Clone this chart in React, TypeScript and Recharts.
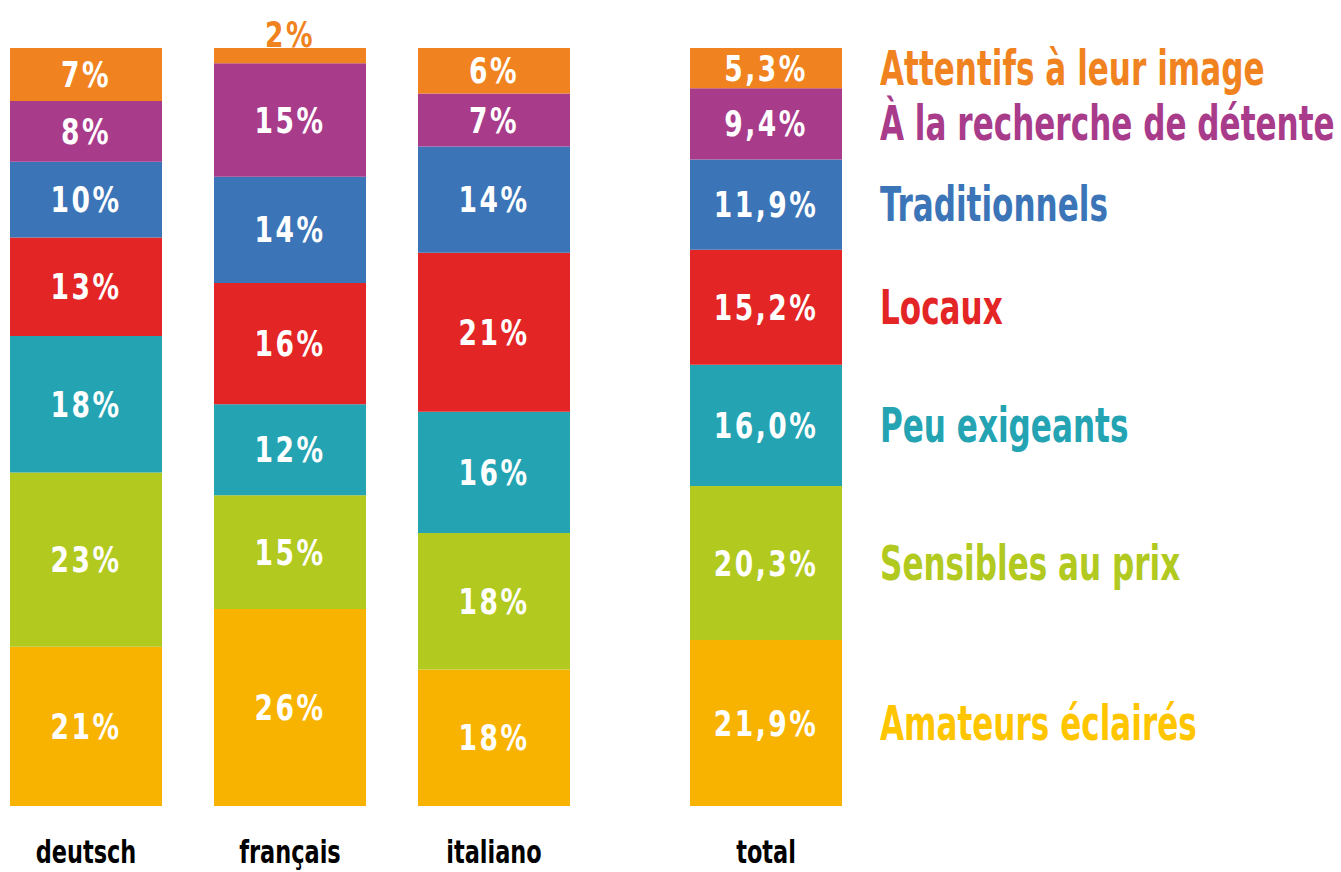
import React from 'react';
import { BarChart, Bar, XAxis, YAxis, LabelList } from 'recharts';

const categories = ['deutsch', 'français', 'italiano', 'total'];
const positions = [0, 1, 2, 10 / 3];

const seriesNames = [
  'Amateurs éclairés',
  'Sensibles au prix',
  'Peu exigeants',
  'Locaux',
  'Traditionnels',
  'À la recherche de détente',
  'Attentifs à leur image',
];
const amateurs = [21, 26, 18, 21.9];
const sensibles = [23, 15, 18, 20.3];
const exigeants = [18, 12, 16, 16.0];
const locaux = [13, 16, 21, 15.2];
const traditionnels = [10, 14, 14, 11.9];
const detente = [8, 15, 7, 9.4];
const attentifs = [7, 2, 6, 5.3];

const seriesValues = [amateurs, sensibles, exigeants, locaux, traditionnels, detente, attentifs];
const barColors = ['#F8B300', '#B2C91F', '#24A4B3', '#E32526', '#3B75B8', '#A93B8B', '#F0831F'];
const textColors = ['#FFC600', '#B2C91F', '#24A4B3', '#E32526', '#3B75B8', '#A93B8B', '#F0831F'];

const keys = ['s0', 's1', 's2', 's3', 's4', 's5', 's6'];

const data = categories.map((name, i) => {
  const row: any = { name, pos: positions[i] };
  seriesValues.forEach((vals, s) => {
    row[keys[s]] = vals[i];
  });
  return row;
});

const FONT = "'Liberation Sans Narrow', 'DejaVu Sans Condensed', 'Liberation Sans', Arial, sans-serif";

const fmt = (v: number, i: number) => (i === 3 ? v.toFixed(1).replace('.', ',') + '%' : `${v}%`);

const makeLabel = (s: number) => (props: any) => {
  const vb = props.viewBox || props;
  const x = vb.x ?? props.x;
  const y = vb.y ?? props.y;
  const w = vb.width ?? props.width;
  const h = vb.height ?? props.height;
  const index = props.index;
  if (index == null || x == null) return null;
  const v = seriesValues[s][index];
  const cx = x + w / 2;
  const small = Math.abs(h) < 24;
  const cy = small ? y - 14 : y + h / 2;
  const elems: any[] = [
    <text
      key="v"
      x={0}
      y={0}
      transform={`translate(${cx},${cy}) scale(0.82,1)`}
      textAnchor="middle"
      dominantBaseline="central"
      fill={small ? barColors[s] : '#ffffff'}
      fontFamily={FONT}
      fontWeight={700}
      fontSize={36}
      letterSpacing={3}
    >
      {fmt(v, index)}
    </text>,
  ];
  if (index === 3) {
    const lx = x + w + 38;
    const ly = y + h / 2;
    elems.push(
      <text
        key="l"
        x={0}
        y={0}
        transform={`translate(${lx},${ly}) scale(0.72,1)`}
        textAnchor="start"
        dominantBaseline="central"
        fill={textColors[s]}
        fontFamily={FONT}
        fontWeight={700}
        fontSize={48}
      >
        {seriesNames[s]}
      </text>
    );
  }
  return <g>{elems}</g>;
};

const CategoryTick = (props: any) => {
  const { x, y, payload } = props;
  const idx = positions.indexOf(payload.value);
  const label = idx >= 0 ? categories[idx] : '';
  return (
    <text
      x={0}
      y={0}
      transform={`translate(${x},${y + 49}) scale(0.78,1)`}
      textAnchor="middle"
      fill="#000000"
      fontFamily={FONT}
      fontWeight={700}
      fontSize={32}
    >
      {label}
    </text>
  );
};

export default function App() {
  return (
    <div style={{ position: 'absolute', left: 0, top: 0, width: 1341, height: 872, background: '#ffffff' }}>
      <BarChart
        width={1341}
        height={872}
        data={data}
        margin={{ top: 48, right: 0, bottom: 6, left: 0 }}
      >
        <XAxis
          type="number"
          dataKey="pos"
          domain={[-86 / 204, (1341 - 86) / 204]}
          ticks={positions}
          axisLine={false}
          tickLine={false}
          height={60}
          tick={<CategoryTick />}
          interval={0}
          allowDataOverflow
        />
        <YAxis hide domain={[0, 100]} />
        {keys.map((k, s) => (
          <Bar
            key={k}
            dataKey={k}
            name={seriesNames[s]}
            stackId="a"
            fill={barColors[s]}
            barSize={152}
            isAnimationActive={false}
          >
            <LabelList dataKey={k} content={makeLabel(s)} />
          </Bar>
        ))}
      </BarChart>
    </div>
  );
}
